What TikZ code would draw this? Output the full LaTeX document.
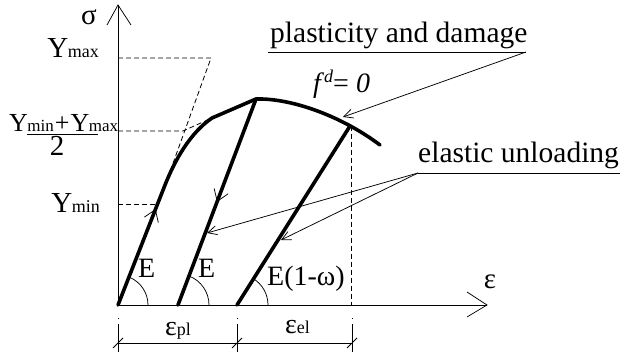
\documentclass[tikz,border=0pt]{standalone}
\usepackage{fontspec}
\setmainfont{Liberation Serif}
\usetikzlibrary{arrows.meta,decorations.markings}
\newcommand\Ysub[2]{Y\kern-0.5pt{\fontsize{#1}{#1}\selectfont #2}}
\begin{document}
\begin{tikzpicture}[x=1pt,y=-1pt,
  thinline/.style={line width=0.75pt},
  curve/.style={line width=3.6pt, line join=round, line cap=round},
  dashline/.style={line width=0.8pt, dash pattern=on 5pt off 3pt},
  lbl/.style={inner sep=0pt, font=\fontsize{29}{31}\selectfont},
  sublbl/.style={inner sep=0pt, font=\fontsize{28}{30}\selectfont},
  lead/.style={line width=0.75pt, -{Straight Barb[length=9pt,width=9pt,line width=0.75pt]}},
  midarrow/.style={postaction={decorate}, decoration={markings,
     mark=at position #1 with {\arrow{Straight Barb[length=11pt,width=15pt,line width=0.75pt]}}}}
]
\useasboundingbox (0,0) rectangle (620,352);
% coordinates
\coordinate (O) at (118,305);
\coordinate (Ytop) at (118,5);
\coordinate (Xend) at (487,305);
\coordinate (K1) at (165,185);
\coordinate (K2) at (212,118);
\coordinate (P) at (256,99);
\coordinate (Q) at (350,126);
\coordinate (R) at (380,145);
\coordinate (O2) at (178,305);
\coordinate (O3) at (237,305);
% axes
\draw[thinline] (O) -- (Ytop);
\draw[thinline] (107,25) -- (Ytop) -- (131,25);
\draw[line width=0.9pt] (O) -- (Xend);
\draw[thinline] (467,292) -- (Xend) -- (467,317);
\node[lbl, anchor=base] (sig) at (89,25) {σ};
\node[lbl, anchor=base] (eps) at (490,288) {ε};
% dashed helper lines
\draw[dashline] (118,58) -- (211,58) -- (167,180);
\draw[dashline] (118,131) -- (183,131) -- (K2);
\draw[dashline] (118,204) -- (157,204);
\draw[dashline] (351,126) -- (351,305);
% y labels
\node[lbl, anchor=base east] (ymax) at (99,58) {\Ysub{18}{max}};
\node[lbl, anchor=base east] (ymin) at (100,213) {\Ysub{18}{min}};
\node[inner sep=0pt, anchor=base west, font=\fontsize{26}{28}\selectfont] (ynum) at (9,132) {\Ysub{17}{min}\kern1pt+\kern1pt\Ysub{17}{max}};
\draw[thinline] (27,134.5) -- (98,134.5);
\node[lbl, anchor=base] (two) at (57,156) {2};
% loading curve
\draw[curve] (O) -- (K1) .. controls (175,160) and (190,133) .. (K2) -- (P)
   .. controls (290,98) and (340,115) .. (R);
\path[midarrow=0.8] (O) -- (K1);
% unloading lines
\draw[curve] (P) -- (O2);
\path[midarrow=0.5] (P) -- (O2);
\draw[curve] (Q) -- (O3);
% angle arcs
\draw[thinline] (148,305) arc[start angle=0, end angle=68, radius=30pt];
\draw[thinline] (209,305) arc[start angle=0, end angle=69, radius=31pt];
\draw[thinline] (268,305) arc[start angle=0, end angle=58, radius=31pt];
\node[sublbl, anchor=base west] (E1) at (138,277) {E};
\node[sublbl, anchor=base west] (E2) at (198,277) {E};
\node[sublbl, anchor=base west] (E3) at (267,285) {E(1-ω)};
% dimension
\draw[thinline] (118,343) -- (352,343);
\foreach \x in {118,237,352}{
  \draw[line width=0.5pt] (\x,318) -- (\x,319);
  \draw[line width=0.5pt] (\x,324) -- (\x,352);
  \draw[line width=0.75pt] (\x-5,348) -- (\x+5,338);
}
\node[inner sep=0pt, anchor=base west, font=\fontsize{28}{30}\selectfont] (epl) at (165,335) {ε{\fontsize{18}{18}\selectfont pl}};
\node[inner sep=0pt, anchor=base west, font=\fontsize{28}{30}\selectfont] (eel) at (285,333) {ε{\fontsize{18}{18}\selectfont el}};
% annotations
\node[inner sep=0pt, anchor=base west, font=\fontsize{29.5}{31}\selectfont] (pd) at (270,43) {plasticity and damage};
\coordinate (pdL) at (268,52);
\coordinate (pdR) at (526,52);
\coordinate (pdT) at (343,117);
\draw[thinline] (pdL) -- (pdR);
\draw[lead] (pdR) -- (pdT);
\node[inner sep=0pt, anchor=base west, font=\fontsize{28}{30}\selectfont] (fd) at (313,93)
  {\itshape f\/\raisebox{10pt}{\fontsize{18}{18}\selectfont d}\upshape= \itshape 0};
\node[inner sep=0pt, anchor=base west, font=\fontsize{29.5}{31}\selectfont] (eu) at (418,163) {elastic unloading};
\coordinate (euL) at (418,173);
\coordinate (euR) at (620,173);
\coordinate (euT1) at (207,233);
\coordinate (euT2) at (281,240);
\draw[thinline] (euL) -- (euR);
\draw[lead] (euL) -- (euT1);
\draw[lead] (euL) -- (euT2);
\end{tikzpicture}
\end{document}
